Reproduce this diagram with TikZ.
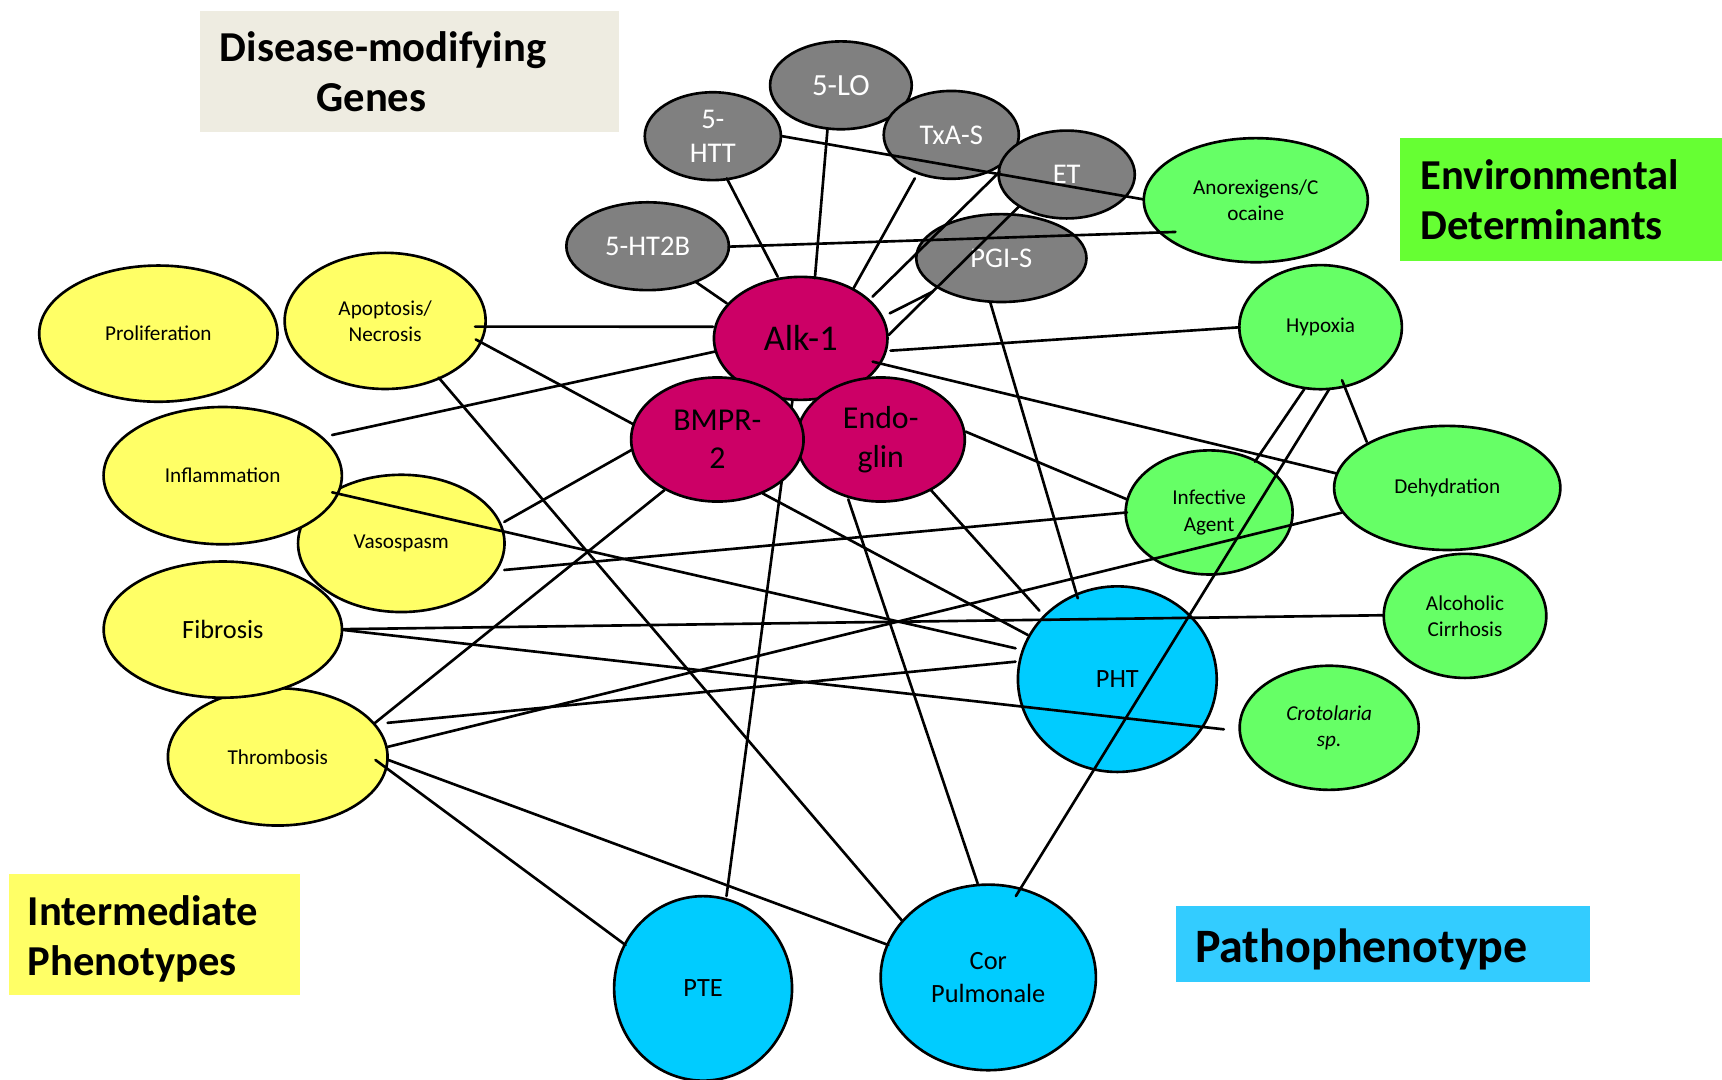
\documentclass[tikz,border=0pt]{standalone}
\usepackage{fontspec}
\setmainfont{Carlito}
\usetikzlibrary{shapes.geometric,calc}
\pgfdeclarelayer{back}
\pgfsetlayers{back,main}
\definecolor{cyel}{HTML}{FFFF66}
\definecolor{cgrn}{HTML}{66FF66}
\definecolor{cblu}{HTML}{00CCFF}
\definecolor{cmag}{HTML}{CC0066}
\definecolor{cgry}{HTML}{808080}
\definecolor{tbeige}{HTML}{EEECE1}
\definecolor{tgreen}{HTML}{66FF33}
\definecolor{tyellow}{HTML}{FFFF66}
\definecolor{tblue}{HTML}{33CCFF}
\begin{document}
\begin{tikzpicture}[x=1pt,y=-1pt,
  oval/.style={ellipse,draw=black,line width=2.4pt,inner sep=0pt,align=center,
    font=\fontsize{19.3}{23.8}\selectfont},
  yel/.style={oval,fill=cyel},
  grn/.style={oval,fill=cgrn},
  blu/.style={oval,fill=cblu,font=\fontsize{24}{29.5}\selectfont},
  mag/.style={oval,fill=cmag,font=\fontsize{29}{35}\selectfont},
  gry/.style={oval,fill=cgry,text=white,font=\fontsize{26}{31.5}\selectfont},
  titlebox/.style={rectangle,anchor=north west,inner ysep=0pt,align=left,
    font=\bfseries\fontsize{38.8}{46}\selectfont},
  conn/.style={line width=2.4pt,line cap=round}]
\useasboundingbox (0,0) rectangle (1568,983);

% title boxes
\node[titlebox,fill=tbeige,minimum width=381pt,minimum height=110pt,inner xsep=18pt,text width=345pt] (tdis) at (182,10) {Disease-modifying\\\hspace*{88pt}Genes};
\node[titlebox,fill=tgreen,minimum width=293.5pt,minimum height=111.8pt,inner xsep=19pt,text width=255.5pt] (tenv) at (1274.5,125.8) {Environmental\\Determinants};
\node[titlebox,fill=tyellow,minimum width=265pt,minimum height=110pt,inner xsep=17pt,text width=231pt] (tint) at (8,796) {\rule{0pt}{35pt}Intermediate\\Phenotypes};
\node[titlebox,fill=tblue,minimum width=377pt,minimum height=69pt,inner xsep=17pt,text width=343pt,font=\bfseries\fontsize{43.7}{50}\selectfont] (tpat) at (1071,825) {\rule{0pt}{41pt}Pathophenotype};

% yellow: intermediate phenotypes
\node[yel,minimum width=217pt,minimum height=124pt] (prolif) at (144.2,303.8) {Proliferation};
\node[yel,minimum width=183pt,minimum height=124pt] (apop) at (350.7,292.2) {Apoptosis/\\Necrosis};
\node[yel,minimum width=188pt,minimum height=125pt] (vaso) at (365.4,494.8) {Vasospasm};
\node[yel,minimum width=217pt,minimum height=125pt] (infl) at (202.8,433.1) {Inflammation};
\node[yel,minimum width=200pt,minimum height=125pt] (thromb) at (252.9,689.2) {Thrombosis};
\node[yel,minimum width=217pt,minimum height=124pt,font=\fontsize{24}{29}\selectfont] (fib) at (202.9,573.3) {Fibrosis};

% gray: disease-modifying genes
\node[gry,minimum width=129pt,minimum height=80pt,font=\fontsize{28}{32}\selectfont] (lo) at (765.7,77.7) {5-LO};
\node[gry,minimum width=124pt,minimum height=80pt] (htt) at (649.1,124) {5-\\HTT};
\node[gry,minimum width=123pt,minimum height=80pt] (txa) at (866.2,122.8) {TxA-S};
\node[gry,minimum width=124pt,minimum height=80pt] (et) at (971.3,158.9) {ET};
\node[gry,minimum width=155pt,minimum height=80pt] (pgi) at (911.8,235) {PGI-S};
\node[gry,minimum width=148pt,minimum height=80pt] (ht2b) at (589.7,224.2) {5-HT2B};

% magenta: core genes
\node[mag,minimum width=158pt,minimum height=112pt,font=\fontsize{33}{38}\selectfont] (alk) at (729.1,308.1) {Alk-1};
\node[mag,minimum width=153pt,minimum height=113pt] (endo) at (802,400.2) {Endo-\\glin};
\node[mag,minimum width=157pt,minimum height=113pt] (bmpr) at (653.2,400.2) {BMPR-\\2};

% green: environmental determinants
\node[grn,minimum width=204pt,minimum height=113pt] (anor) at (1143.5,182.3) {Anorexigens/C\\ocaine};
\node[grn,minimum width=148pt,minimum height=113pt] (hyp) at (1202.5,297.9) {Hypoxia};
\node[grn,minimum width=206pt,minimum height=113pt] (dehyd) at (1317.8,444.3) {Dehydration};
\node[grn,minimum width=152pt,minimum height=113pt] (infa) at (1101,466.6) {Infective\\Agent};
\node[grn,minimum width=148pt,minimum height=113pt] (alc) at (1334,560.8) {Alcoholic\\Cirrhosis};
\node[grn,minimum width=163pt,minimum height=113pt,font=\itshape\fontsize{19.3}{23.8}\selectfont] (crot) at (1210.3,662.7) {Crotolaria\\sp.};

% blue: pathophenotypes
\node[blu,minimum width=181pt,minimum height=169pt] (pht) at (1017.4,618.4) {PHT};
\node[blu,minimum width=162pt,minimum height=168pt] (pte) at (640.2,900) {PTE};
\node[blu,minimum width=196pt,minimum height=169pt] (cor) at (899.9,890) {Cor\\Pulmonale};

% connector hidden behind BMPR-2 and Endoglin
\begin{pgfonlayer}{back}
\draw[conn] (alk) -- ($(pte)+(21.3,-84.1)$);
\end{pgfonlayer}

% connectors
\draw[conn] ($(htt)+(61.9,-0.2)$) -- ($(anor)+(-102,-0.7)$);
\draw[conn] ($(ht2b)+(73.8,0.4)$) -- ($(anor)+(-73.2,28.9)$);
\draw[conn] ($(htt)+(12.7,38.4)$) -- ($(alk)+(-20.9,-56.1)$);
\draw[conn] ($(lo)+(-12.2,39.8)$) -- ($(alk)+(12.9,-54.7)$);
\draw[conn] ($(txa)+(-33.2,39.6)$) -- ($(alk)+(48.1,-45.6)$);
\draw[conn] ($(et)+(-61,-2.6)$) -- ($(alk)+(65.5,-38)$);
\draw[conn] ($(pgi)+(-62.5,30.6)$) -- ($(alk)+(81.1,-22.8)$);
\draw[conn] ($(et)+(-43.6,29.3)$) -- ($(alk)+(80.1,-3.1)$);
\draw[conn] ($(ht2b)+(43.5,32.3)$) -- ($(alk)+(-67.3,-31.9)$);
\draw[conn] ($(pgi)+(-10.3,39.7)$) -- ($(pht)+(-36,-73.6)$);
\draw[conn] ($(alk)+(-79.8,-10.6)$) -- ($(apop)+(81.8,5.2)$);
\draw[conn] ($(alk)+(-78.4,12.1)$) -- ($(infl)+(99.6,-37)$);
\draw[conn] ($(alk)+(81.8,11.2)$) -- ($(hyp)+(-73.7,0.1)$);
\draw[conn] ($(alk)+(65.5,21.2)$) -- ($(dehyd)+(-101.2,-13.3)$);
\draw[conn] ($(apop)+(82.5,16.9)$) -- ($(bmpr)+(-76.9,-14.1)$);
\draw[conn] ($(apop)+(48.7,51.6)$) -- ($(cor)+(-78.5,-51.7)$);
\draw[conn] ($(bmpr)+(-78.3,9.6)$) -- ($(vaso)+(93.8,-19.6)$);
\draw[conn] ($(bmpr)+(-48.1,46)$) -- ($(thromb)+(88.6,-31)$);
\draw[conn] ($(bmpr)+(41.1,49)$) -- ($(pht)+(-81.5,-40.2)$);
\draw[conn] ($(endo)+(77.2,-7.2)$) -- ($(infa)+(-74.8,-11.9)$);
\draw[conn] ($(endo)+(45.6,46)$) -- ($(pht)+(-70.9,-62.3)$);
\draw[conn] ($(endo)+(-29.6,54.5)$) -- ($(cor)+(-9.7,-85.6)$);
\draw[conn] ($(vaso)+(93.8,24.2)$) -- ($(infa)+(-74.8,0)$);
\draw[conn] ($(infl)+(99.6,15.2)$) -- ($(pht)+(-92.7,-28.1)$);
\draw[conn] ($(fib)+(108.6,-0.4)$) -- ($(alc)+(-74,-0.6)$);
\draw[conn] ($(fib)+(108.6,0.2)$) -- ($(crot)+(-95.9,1.4)$);
\draw[conn] ($(thromb)+(100,-31)$) -- ($(pht)+(-92.7,-15.9)$);
\draw[conn] ($(thromb)+(100,-9.1)$) -- ($(dehyd)+(-95.8,22.4)$);
\draw[conn] ($(thromb)+(100.7,2.8)$) -- ($(cor)+(-91,-29.5)$);
\draw[conn] ($(thromb)+(89,2.8)$) -- ($(pte)+(-70.6,-39.5)$);
\draw[conn] ($(hyp)+(-14.7,56.2)$) -- ($(infa)+(41.6,-46.2)$);
\draw[conn] ($(hyp)+(8,56.2)$) -- ($(cor)+(25.1,-74.1)$);
\draw[conn] ($(hyp)+(19.5,48.3)$) -- ($(dehyd)+(-73.3,-42)$);
\end{tikzpicture}
\end{document}
